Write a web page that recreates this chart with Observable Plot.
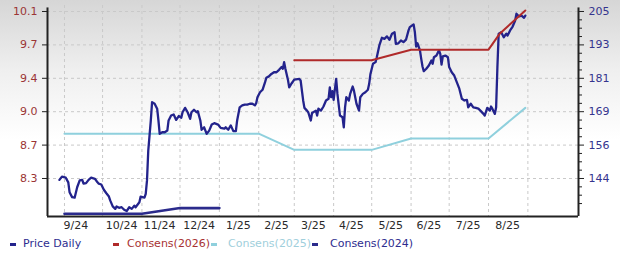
<!DOCTYPE html>
<html><head><meta charset="utf-8">
<script src="https://cdn.jsdelivr.net/npm/d3@7"></script>
<script src="https://cdn.jsdelivr.net/npm/@observablehq/plot@0.6"></script>
<style>
html,body{margin:0;padding:0;}
body{width:620px;height:257px;overflow:hidden;position:relative;background:linear-gradient(to bottom,#d6d6d6 0px,#efefef 70px,#ffffff 140px);font-family:"DejaVu Sans",Verdana,sans-serif;}
#chart{position:absolute;left:0;top:0;}
#legend{position:absolute;top:236px;left:0;width:620px;height:20px;font-size:11px;}
.item{position:absolute;top:0;line-height:16px;white-space:nowrap;}
.sw{position:absolute;width:6px;height:3px;top:7px;}
</style></head><body>
<div id="chart"></div>
<div id="legend"></div>
<script>
// ---- data ----
const priceDates = ["2024-08-28","2024-08-30","2024-09-02","2024-09-04","2024-09-05","2024-09-07","2024-09-09","2024-09-11","2024-09-13","2024-09-15","2024-09-16","2024-09-18","2024-09-20","2024-09-22","2024-09-25","2024-09-27","2024-09-28","2024-09-30",
"2024-10-02","2024-10-04","2024-10-06","2024-10-07","2024-10-09","2024-10-11","2024-10-12","2024-10-14","2024-10-16","2024-10-18","2024-10-20","2024-10-22","2024-10-24","2024-10-26","2024-10-27","2024-10-30","2024-10-31",
"2024-11-03","2024-11-04","2024-11-05","2024-11-06","2024-11-08","2024-11-09","2024-11-11","2024-11-13","2024-11-14","2024-11-15","2024-11-17","2024-11-19","2024-11-21","2024-11-22","2024-11-24","2024-11-26","2024-11-28","2024-11-30",
"2024-12-02","2024-12-03","2024-12-05","2024-12-07","2024-12-09","2024-12-10","2024-12-12","2024-12-14","2024-12-15","2024-12-17","2024-12-18","2024-12-20","2024-12-22","2024-12-24","2024-12-26","2024-12-28","2024-12-31",
"2025-01-02","2025-01-05","2025-01-06","2025-01-08","2025-01-10","2025-01-12","2025-01-14","2025-01-15","2025-01-17","2025-01-19","2025-01-21","2025-01-23","2025-01-25","2025-01-27","2025-01-29","2025-01-30","2025-01-31",
"2025-02-02","2025-02-04","2025-02-06","2025-02-07","2025-02-09","2025-02-11","2025-02-13","2025-02-15","2025-02-17","2025-02-19","2025-02-20","2025-02-21","2025-02-22","2025-02-24","2025-02-25","2025-02-27",
"2025-03-01","2025-03-05","2025-03-06","2025-03-08","2025-03-09","2025-03-11","2025-03-12","2025-03-14","2025-03-15","2025-03-18","2025-03-19","2025-03-20","2025-03-22","2025-03-24","2025-03-26","2025-03-28","2025-03-29","2025-03-30","2025-03-31",
"2025-04-01","2025-04-03","2025-04-04","2025-04-06","2025-04-08","2025-04-09","2025-04-10","2025-04-11","2025-04-13","2025-04-14","2025-04-16","2025-04-17","2025-04-18","2025-04-19","2025-04-21","2025-04-22","2025-04-24","2025-04-26","2025-04-28","2025-04-29","2025-04-30",
"2025-05-02","2025-05-04","2025-05-05","2025-05-07","2025-05-09","2025-05-11","2025-05-13","2025-05-15","2025-05-17","2025-05-19","2025-05-20","2025-05-22","2025-05-24","2025-05-26","2025-05-28","2025-05-30","2025-05-31",
"2025-06-03","2025-06-04","2025-06-05","2025-06-06","2025-06-08","2025-06-09","2025-06-10","2025-06-11","2025-06-13","2025-06-15","2025-06-17","2025-06-18","2025-06-19","2025-06-21","2025-06-23","2025-06-24","2025-06-25","2025-06-26","2025-06-28","2025-06-30",
"2025-07-01","2025-07-03","2025-07-05","2025-07-07","2025-07-09","2025-07-11","2025-07-13","2025-07-15","2025-07-16","2025-07-18","2025-07-20","2025-07-22","2025-07-24","2025-07-26","2025-07-28","2025-07-29","2025-07-31",
"2025-08-02","2025-08-03","2025-08-04","2025-08-06","2025-08-07","2025-08-08","2025-08-09","2025-08-11","2025-08-13","2025-08-15","2025-08-16","2025-08-18","2025-08-20","2025-08-22","2025-08-23","2025-08-25","2025-08-27","2025-08-29","2025-08-30"];
const priceValues = [143.5,144.7,144.3,142.6,139.0,137.2,137.0,140.8,143.3,143.5,142.1,142.3,143.5,144.3,143.9,142.6,142.1,141.8,
139.9,138.6,137.4,136.0,133.8,132.9,133.8,133.3,133.5,132.6,132.1,133.5,132.9,134.1,133.5,135.3,137.4,
137.0,138.4,143.3,154.2,165.2,171.9,171.3,169.5,165.2,160.3,160.9,160.9,161.5,165.2,167.0,167.4,165.4,166.8,
166.2,168.2,169.8,168.2,165.8,168.2,169.1,168.2,168.6,165.2,161.8,162.7,160.3,161.5,163.7,164.2,163.7,
162.5,162.2,162.7,161.8,163.4,161.3,161.3,165.2,170.0,170.7,171.0,171.0,171.3,171.3,170.7,171.5,173.7,
175.5,176.4,179.2,180.8,181.3,182.2,182.8,182.8,183.7,184.7,184.1,186.5,184.1,180.1,177.3,178.8,
180.1,180.4,179.8,172.5,169.8,168.8,168.2,165.2,167.9,168.8,167.0,169.5,168.8,170.3,172.5,173.1,177.3,173.7,175.9,
172.7,180.4,174.9,167.0,166.4,162.7,170.0,173.7,172.5,174.9,177.6,176.1,173.7,171.3,168.8,173.7,174.9,175.5,176.4,178.6,182.2,
185.9,186.5,188.3,192.6,195.4,195.0,195.9,194.7,196.9,197.4,193.2,193.4,194.4,193.8,194.7,198.1,199.3,
200.3,197.4,192.2,193.4,190.8,187.7,184.9,183.2,184.1,185.3,187.1,185.9,188.3,188.9,190.8,189.5,185.6,188.6,188.9,188.3,
184.7,182.8,181.6,179.2,176.8,173.1,172.5,172.7,170.0,171.3,170.0,169.8,169.5,168.6,167.6,167.0,169.8,
168.8,170.3,169.5,167.6,170.0,184.7,196.9,197.4,195.6,196.9,196.2,198.1,199.5,201.7,204.2,203.2,203.5,202.7,203.5];

const cons2026Dates = ["2025-03-01","2025-05-01","2025-06-01","2025-08-01","2025-08-10","2025-08-30"];
const cons2026Values = [9.54,9.54,9.65,9.65,9.82,10.06];
const cons2025Dates = ["2024-09-01","2025-02-01","2025-03-01","2025-05-01","2025-06-01","2025-08-01","2025-08-30"];
const cons2025Values = [8.77,8.77,8.60,8.60,8.72,8.72,9.04];
const cons2024Dates = ["2024-09-01","2024-11-01","2024-12-01","2025-01-01"];
const cons2024Values = [7.93,7.93,7.99,7.99];

const leftTickValues = [8.30,8.65,9.00,9.35,9.70,10.05];
const leftTickLabels = ["8.3","8.7","9.0","9.4","9.7","10.1"];
const rightTickValues = [144,156.2,168.4,180.6,192.8,205];
const rightTickLabels = ["144","156","169","181","193","205"];
const monthStarts = ["2024-09-01","2024-10-01","2024-11-01","2024-12-01","2025-01-01","2025-02-01","2025-03-01","2025-04-01","2025-05-01","2025-06-01","2025-07-01","2025-08-01","2025-09-01"];
const xLabelDates = ["2024-09-10","2024-10-16","2024-11-15","2024-12-16","2025-01-16","2025-02-15","2025-03-16","2025-04-15","2025-05-16","2025-06-15","2025-07-16","2025-08-16"];
const xLabels = ["9/24","10/24","11/24","12/24","1/25","2/25","3/25","4/25","5/25","6/25","7/25","8/25"];

const seriesNames = ["Price Daily","Consens(2026)","Consens(2025)","Consens(2024)"];
const seriesColors = ["#23238c","#b02a2a","#8fd0dd","#2b2b8c"];

// ---- build ----
const parse = d3.utcParse("%Y-%m-%d");
const toPrice = eps => 144 + (eps - 8.30) * (61 / 1.75); // left (EPS) axis -> right (price) axis
const price = priceDates.map((d, i) => ({date: parse(d), v: priceValues[i]}));
const c26 = cons2026Dates.map((d, i) => ({date: parse(d), v: toPrice(cons2026Values[i])}));
const c25 = cons2025Dates.map((d, i) => ({date: parse(d), v: toPrice(cons2025Values[i])}));
const c24 = cons2024Dates.map((d, i) => ({date: parse(d), v: toPrice(cons2024Values[i])}));
const leftPos = leftTickValues.map(toPrice);
const months = monthStarts.map(parse);
const xLab = xLabelDates.map(parse);
const minorPos = [];
const step = (rightTickValues[1] - rightTickValues[0]) / 4;
for (let k = -3; k <= 20; k++) if (k % 4 !== 0) minorPos.push(rightTickValues[0] + k * step);

const xDomain = [new Date(Date.UTC(2024, 7, 18, 15)), new Date(Date.UTC(2025, 9, 10, 21))];
const yDomain = [130.12, 207.19];
const axisTop = 206.3;

const chart = Plot.plot({
  width: 620, height: 234,
  marginLeft: 47, marginRight: 42, marginTop: 5, marginBottom: 18,
  style: {background: "transparent", fontFamily: "DejaVu Sans, Verdana, sans-serif", fontSize: "11px", overflow: "visible"},
  x: {type: "utc", domain: xDomain},
  y: {domain: yDomain},
  marks: [
    Plot.ruleY(rightTickValues, {stroke: "#c9c9c9", strokeDasharray: "3,3"}),
    Plot.ruleX(months, {stroke: "#c9c9c9", strokeDasharray: "3,3"}),
    Plot.line(c25, {x: "date", y: "v", stroke: seriesColors[2], strokeWidth: 2}),
    Plot.line(price, {x: "date", y: "v", stroke: seriesColors[0], strokeWidth: 2.3}),
    Plot.line(c24, {x: "date", y: "v", stroke: seriesColors[3], strokeWidth: 2.6}),
    Plot.line(c26, {x: "date", y: "v", stroke: seriesColors[1], strokeWidth: 2}),
    Plot.ruleY([yDomain[0]], {stroke: "#222", strokeWidth: 2}),
    Plot.ruleX([xDomain[0], xDomain[1]], {y1: yDomain[0], y2: axisTop, stroke: "#222", strokeWidth: 2}),
    Plot.axisY(leftPos, {anchor: "left", tickSize: 5, tickPadding: 5, stroke: "#222", fill: "#9b3535", label: null,
      tickFormat: d => leftTickLabels[leftPos.indexOf(d)]}),
    Plot.axisY(rightTickValues, {anchor: "right", tickSize: 5, tickPadding: 5, stroke: "#222", fill: "#34348e", label: null,
      tickFormat: d => rightTickLabels[rightTickValues.indexOf(d)]}),
    Plot.axisY(minorPos, {anchor: "right", tickSize: 3, stroke: "#222", label: null, tickFormat: () => ""}),
    Plot.axisX(xLab, {anchor: "bottom", tickSize: 0, tickPadding: 5, fill: "#2a2a2a", label: null,
      tickFormat: d => xLabels[xLab.findIndex(t => +t === +d)]})
  ]
});
document.getElementById("chart").appendChild(chart);

// legend
const dashX = [10, 113, 211, 312];
const textX = [23, 127, 228, 330];
const textColors = ["#2d2d8f", "#a83232", "#9fcfdc", "#2d2d8f"];
const leg = document.getElementById("legend");
seriesNames.forEach((name, i) => {
  const sw = document.createElement("div");
  sw.className = "sw";
  sw.style.left = dashX[i] + "px";
  sw.style.background = seriesColors[i];
  leg.appendChild(sw);
  const t = document.createElement("div");
  t.className = "item";
  t.style.left = textX[i] + "px";
  t.style.color = textColors[i];
  t.textContent = name;
  leg.appendChild(t);
});
</script></body></html>
